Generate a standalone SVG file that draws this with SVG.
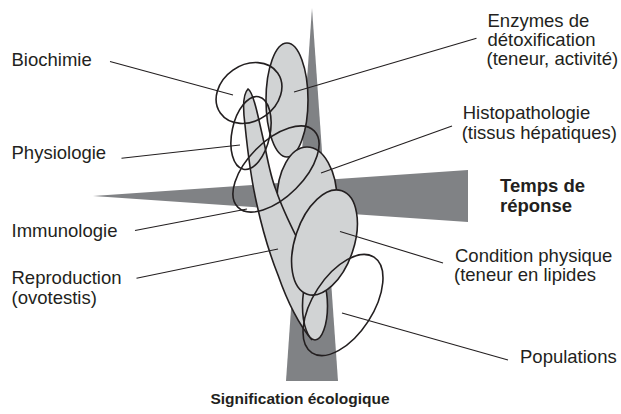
<svg xmlns="http://www.w3.org/2000/svg" width="621" height="414" viewBox="0 0 621 414">
<style>
text{font-family:"Liberation Sans",Arial,Helvetica,sans-serif;font-size:18.5px;fill:#231f20}
.b{font-weight:bold}
.wedge{fill:#808285;stroke:none}
.g{fill:#d1d3d4;stroke:#231f20;stroke-width:1.6}
.gf{fill:#d1d3d4;stroke:none}
.o{fill:none;stroke:#231f20;stroke-width:1.6}
.lead{fill:none;stroke:#231f20;stroke-width:1.1}
</style>
<rect width="621" height="414" fill="#ffffff"/>
<g id="axis-temps">
<polygon class="wedge" points="93,196 468,170 468,222"/>
<text class="b" x="500" y="191.7">Temps de</text>
<text class="b" x="500" y="211.7">réponse</text>
</g>
<g id="axis-signification">
<polygon class="wedge" points="312,8 286,381 338,381"/>
<text class="b" x="300" y="404" text-anchor="middle" style="font-size:15.5px">Signification écologique</text>
</g>
<g id="enzymes">
<ellipse class="g" cx="287" cy="100" rx="21" ry="57"/>
<text x="487.5" y="26.5">Enzymes de</text>
<text x="487.5" y="46">détoxification</text>
<text x="486.5" y="65.3">(teneur, activité)</text>
</g>
<g id="histopathologie">
<ellipse class="g" cx="307" cy="200" rx="30" ry="53"/>
<text x="462.7" y="119">Histopathologie</text>
<text x="461.7" y="138.5">(tissus hépatiques)</text>
</g>
<g id="reproduction">
<path class="gf" d="M248,89 C252,91 255,103 258,116 L265,147 C268,162 271,178 276,190 C281,205 289,222 297,238 L312,250 L322,300 L315,338 L312,340 C295,320 285,295 278,275 C270,255 263,232 257,205 C250,175 247,145 245,125 C243,110 243,94 248,89 Z"/>
<path class="o" d="M297,238 C289,222 281,205 276,190 C271,178 268,162 265,147 L258,116 C255,103 252,91 248,89 C243,94 243,110 245,125 C247,145 250,175 257,205 C263,232 270,255 278,275 C285,295 295,320 312,340"/>
<ellipse class="g" cx="315" cy="306" rx="12.5" ry="34"/>
<text x="11.5" y="284">Reproduction</text>
<text x="11.5" y="303.5">(ovotestis)</text>
</g>
<g id="condition">
<ellipse class="g" cx="324.5" cy="242.5" rx="29.5" ry="54.5" transform="rotate(18.5 324.5 242.5)"/>
<text x="455" y="261.7">Condition physique</text>
<text x="454" y="281">(teneur en lipides</text>
</g>
<g id="biochimie">
<ellipse class="o" cx="249" cy="93" rx="35" ry="28" transform="rotate(-35 249 93)"/>
<text x="11.5" y="65.7">Biochimie</text>
</g>
<g id="physiologie">
<ellipse class="o" cx="251" cy="133" rx="19" ry="37" transform="rotate(12 251 133)"/>
<text x="11.5" y="159">Physiologie</text>
</g>
<g id="immunologie">
<ellipse class="o" cx="276" cy="169" rx="54" ry="28" transform="rotate(-45 276 169)"/>
<text x="11.5" y="236.7">Immunologie</text>
</g>
<g id="populations">
<ellipse class="o" cx="343" cy="305" rx="30" ry="57" transform="rotate(33 343 305)"/>
<text x="520" y="363">Populations</text>
</g>
<g id="connectors">
<line class="lead" x1="110" y1="61.5" x2="233" y2="95"/>
<line class="lead" x1="121.5" y1="158.3" x2="240" y2="145"/>
<line class="lead" x1="135" y1="230.5" x2="247" y2="209"/>
<line class="lead" x1="136.5" y1="278.3" x2="278" y2="249"/>
<line class="lead" x1="476.5" y1="38.3" x2="294" y2="92"/>
<line class="lead" x1="452" y1="126" x2="321" y2="173"/>
<line class="lead" x1="340" y1="231.5" x2="443" y2="263"/>
<line class="lead" x1="342" y1="313" x2="508" y2="360"/>
</g>
</svg>
